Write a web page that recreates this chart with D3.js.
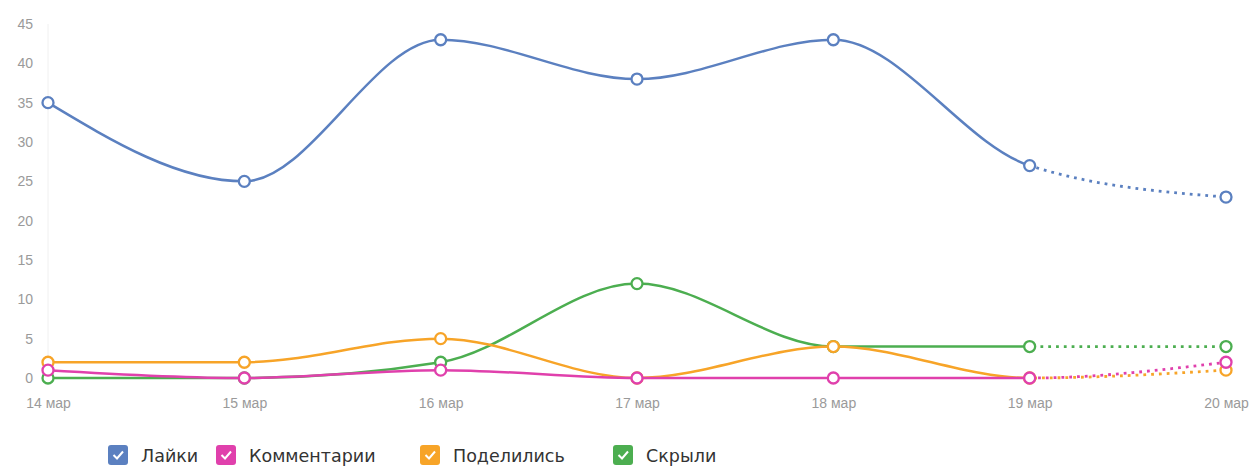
<!DOCTYPE html>
<html>
<head>
<meta charset="utf-8">
<script src="https://cdn.jsdelivr.net/npm/d3@7"></script>
<style>
  body { margin: 0; background: #fff; }
  text { font-family: "Liberation Sans", Arial, sans-serif; }
  .legend text { font-family: "DejaVu Sans", sans-serif; }
</style>
</head>
<body>
<div id="chart"></div>
<script>
// data
var days = ["14 мар", "15 мар", "16 мар", "17 мар", "18 мар", "19 мар", "20 мар"];
var likes = [35, 25, 43, 38, 43, 27, 23];
var comments = [1, 0, 1, 0, 0, 0, 2];
var shares = [2, 2, 5, 0, 4, 0, 1];
var hidden = [0, 0, 2, 12, 4, 4, 4];
var yTicks = [0, 5, 10, 15, 20, 25, 30, 35, 40, 45];
var seriesNames = ["Лайки", "Комментарии", "Поделились", "Скрыли"];
var colors = ["#5b80c0", "#e040ac", "#f7a428", "#4cae50"];

var w = 1259, h = 466;

var series = [likes, comments, shares, hidden].map(function (vals, i) {
    return { name: seriesNames[i], color: colors[i], values: vals };
});

var svg = d3.select("#chart").append("svg")
    .attr("width", w)
    .attr("height", h);

var xScale = d3.scalePoint()
    .domain(d3.range(days.length))
    .range([48, 1226]);

var yScale = d3.scaleLinear()
    .domain([0, 45])
    .range([378, 24]);

// y axis labels
var yAxis = d3.axisLeft(yScale)
    .tickValues(yTicks)
    .tickSize(0)
    .tickPadding(0);
var gy = svg.append("g")
    .attr("transform", "translate(33,0)")
    .call(yAxis);
gy.select(".domain").remove();
gy.selectAll("text")
    .attr("fill", "#9a9a9a")
    .attr("font-size", "14px");

// faint vertical line at first day
svg.append("line")
    .attr("x1", xScale(0)).attr("x2", xScale(0))
    .attr("y1", 24).attr("y2", 378)
    .attr("stroke", "#f0f0f0");

// x axis labels
var xAxis = d3.axisBottom(xScale)
    .tickSize(0)
    .tickPadding(0)
    .tickFormat(function (d) { return days[d]; });
var gx = svg.append("g")
    .attr("transform", "translate(0,398)")
    .call(xAxis);
gx.select(".domain").remove();
gx.selectAll("text")
    .attr("fill", "#9a9a9a")
    .attr("font-size", "14px")
    .attr("dy", "0.71em");

// clip areas: solid up to 19 мар, dotted after
var last = days.length - 2;
var defs = svg.append("defs");
defs.append("clipPath").attr("id", "clipSolid")
    .append("rect")
    .attr("x", 0).attr("y", 0)
    .attr("width", xScale(last)).attr("height", h);
defs.append("clipPath").attr("id", "clipDot")
    .append("rect")
    .attr("x", xScale(last)).attr("y", 0)
    .attr("width", w - xScale(last)).attr("height", h);

var line = d3.line()
    .x(function (d, i) { return xScale(i); })
    .y(function (d) { return yScale(d); })
    .curve(d3.curveMonotoneX);

// draw from last series to first
var order = [3, 2, 1, 0];
order.forEach(function (k) {
    var s = series[k];
    var g = svg.append("g");
    g.append("path")
        .attr("d", line(s.values))
        .attr("fill", "none")
        .attr("stroke", s.color)
        .attr("stroke-width", 2.5)
        .attr("clip-path", "url(#clipSolid)");
    g.append("path")
        .attr("d", line(s.values))
        .attr("fill", "none")
        .attr("stroke", s.color)
        .attr("stroke-width", 2.8)
        .attr("stroke-dasharray", "2.8,5")
        .attr("clip-path", "url(#clipDot)");
    g.selectAll("circle")
        .data(s.values)
        .enter()
        .append("circle")
        .attr("cx", function (d, i) { return xScale(i); })
        .attr("cy", function (d) { return yScale(d); })
        .attr("r", 5.5)
        .attr("fill", "#fff")
        .attr("stroke", s.color)
        .attr("stroke-width", 2.3);
});

// legend
var legendX = [108, 216, 420, 613];
var legend = svg.append("g").attr("class", "legend").selectAll("g")
    .data(series)
    .enter()
    .append("g")
    .attr("transform", function (d, i) { return "translate(" + legendX[i] + ",445)"; });
legend.append("rect")
    .attr("width", 20).attr("height", 20)
    .attr("rx", 3)
    .attr("fill", function (d) { return d.color; });
legend.append("path")
    .attr("d", "M5.5,10 L9,13.5 L15,6.5")
    .attr("fill", "none")
    .attr("stroke", "#fff")
    .attr("stroke-width", 2);
legend.append("text")
    .text(function (d) { return d.name; })
    .attr("x", 33)
    .attr("y", 16.5)
    .attr("font-size", "17.5px")
    .attr("fill", "#333");
</script>
</body>
</html>
